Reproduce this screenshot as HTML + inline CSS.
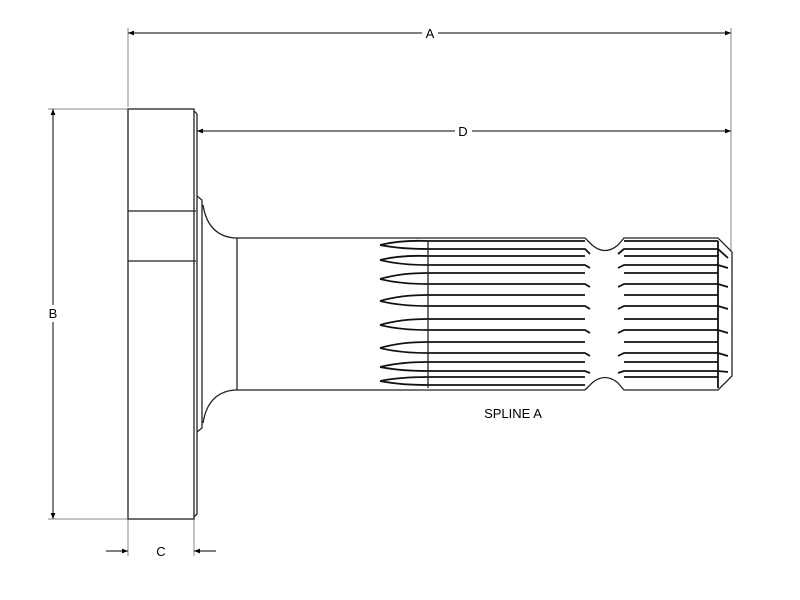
<!DOCTYPE html>
<html><head><style>body{margin:0;background:#fff}svg{display:block}</style></head><body>
<svg width="800" height="600" viewBox="0 0 800 600" xmlns="http://www.w3.org/2000/svg" font-family="Liberation Sans, sans-serif">
<defs><marker id="ar" viewBox="0 0 10 10" refX="10" refY="5" markerWidth="8" markerHeight="6" orient="auto-start-reverse"><path d="M0,1 L10,5 L0,9 z" fill="#000"/></marker></defs>
<g stroke="#888" stroke-width="1" fill="none">
<line x1="128" y1="28" x2="128" y2="107"/><line x1="731" y1="28" x2="731" y2="250"/>
<line x1="48" y1="109" x2="128" y2="109"/><line x1="48" y1="519" x2="128" y2="519"/>
<line x1="128" y1="519" x2="128" y2="556"/><line x1="194" y1="519" x2="194" y2="556"/>
</g>
<g stroke="#000" stroke-width="1">
<line x1="128" y1="33" x2="422" y2="33" marker-start="url(#ar)"/><line x1="438" y1="33" x2="731" y2="33" marker-end="url(#ar)"/>
<line x1="197" y1="131" x2="455" y2="131" marker-start="url(#ar)"/><line x1="472" y1="131" x2="731" y2="131" marker-end="url(#ar)"/>
<line x1="53" y1="109" x2="53" y2="305" marker-start="url(#ar)"/><line x1="53" y1="322" x2="53" y2="519" marker-end="url(#ar)"/>
<line x1="106" y1="551" x2="128" y2="551" marker-end="url(#ar)"/><line x1="216" y1="551" x2="194" y2="551" marker-end="url(#ar)"/>
</g>
<g font-size="13" text-anchor="middle"><text x="430" y="38">A</text><text x="463" y="136">D</text><text x="53" y="318">B</text><text x="161" y="556">C</text><text x="513" y="418">SPLINE A</text></g>
<g stroke="#222" stroke-width="1.3" fill="none">
<rect x="128" y="109" width="66" height="410"/>
<line x1="128" y1="211" x2="196" y2="211"/><line x1="128" y1="261" x2="196" y2="261"/>
<path d="M194,111 L197,114 L197,514 L194,517"/>
<path d="M197,196 L202,200 L202,428 L197,432"/>
<path d="M203,205 Q208,236 235,238 L585,238"/><path d="M203,423 Q208,392 235,390 L585,390"/>
<line x1="237" y1="238" x2="237" y2="390"/>
<path d="M585,238 L592,245 Q605,256 618,245 L624,238 L718,238 L732,252 L732,376 L718,390 L624,390 L618,383 Q605,372 592,383 L585,390"/>
</g>
<g stroke="#111" stroke-width="1.8" fill="#fff">
<path d="M380,245 Q400,240 428,241 L585,241 M380,245 Q400,249 428,249 L585,249 L590,254"/>
<path d="M380,260 Q400,255 428,256 L585,256 M380,260 Q400,265 428,265 L585,265 L590,268"/>
<path d="M380,279 Q400,273 428,273 L585,273 M380,279 Q400,284 428,284 L585,284 L590,287"/>
<path d="M380,301 Q400,295 428,295 L585,295 M380,301 Q400,306 428,306 L585,306 L590,309"/>
<path d="M380,325 Q400,319 428,319 L585,319 M380,325 Q400,330 428,330 L585,330 L590,333"/>
<path d="M380,348 Q400,342 428,342 L585,342 M380,348 Q400,353 428,353 L585,353 L590,356"/>
<path d="M380,367 Q400,362 428,362 L585,362 M380,367 Q400,371 428,371 L585,371 L590,373"/>
<path d="M380,381 Q400,377 428,377 L585,377 M380,381 Q400,385 428,385 L585,385"/>
</g>
<g stroke="#111" stroke-width="1.8" fill="none">
<path d="M618,254 L624,249 L718,249 L728,258 M618,268 L624,265 L718,265 L728,268 M618,287 L624,284 L718,284 L728,287 M618,309 L624,306 L718,306 L728,309 M618,333 L624,330 L718,330 L728,333 M618,356 L624,353 L718,353 L728,356 M618,373 L624,371 L718,371 L728,372"/>
<path d="M624,256 L718,256 M624,273 L718,273 M624,295 L718,295 M624,319 L718,319 M624,342 L718,342 M624,362 L718,362 M624,377 L718,377 M624,241 L718,241"/>
<path d="M718,241 L718,388"/>
</g>
<line x1="428" y1="240" x2="428" y2="388" stroke="#222" stroke-width="1.3"/>
</svg>
</body></html>
